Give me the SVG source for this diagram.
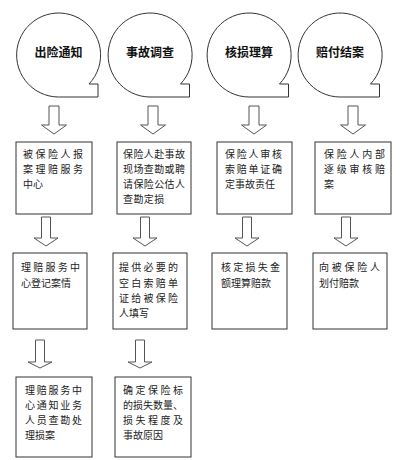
<svg xmlns="http://www.w3.org/2000/svg" width="400" height="460" viewBox="0 0 400 460">
<style>
.bubble{fill:#fff;stroke:#333;stroke-width:1}
.box{fill:#fff;stroke:#333;stroke-width:1}
.arr{fill:#fff;stroke:#555;stroke-width:1}
.title{font-family:"Noto Sans CJK SC","Noto Sans",sans-serif;font-size:12px;font-weight:bold;fill:#111;text-anchor:middle}
.t{font-family:"Noto Sans CJK SC","Noto Sans",sans-serif;font-size:10px;fill:#222}
</style>
<rect width="400" height="460" fill="#fff"/>
<g id="connectors">
<path class="arr" d="M49,106 H59 V125 H66.5 L54,134 L41.5,125 H49 Z"/>
<path class="arr" d="M148,106 H158 V125 H165.5 L153,134 L140.5,125 H148 Z"/>
<path class="arr" d="M249,106 H259 V125 H266.5 L254,134 L241.5,125 H249 Z"/>
<path class="arr" d="M348,106 H358 V125 H365.5 L353,134 L340.5,125 H348 Z"/>
<path class="arr" d="M41.5,217 H50.5 V238 H58 L46,246 L34,238 H41.5 Z"/>
<path class="arr" d="M140.5,217 H149.5 V238 H157 L145,246 L133,238 H140.5 Z"/>
<path class="arr" d="M242.5,217 H251.5 V238 H259 L247,246 L235,238 H242.5 Z"/>
<path class="arr" d="M341.5,217 H350.5 V238 H358 L346,246 L334,238 H341.5 Z"/>
<path class="arr" d="M35.5,340 H44.5 V362 H52 L40,368 L28,362 H35.5 Z"/>
<path class="arr" d="M135.5,340 H144.5 V362 H152 L140,368 L128,362 H135.5 Z"/>
</g>
<g id="n1">
<path class="bubble" d="M89,84 A42,42 0 1 0 58.5,97 L98,97 L98,84 Z"/>
<text class="title" x="58.5" y="56.5">出险通知</text>
</g>
<g id="n2">
<path class="bubble" d="M180.5,84 A42,42 0 1 0 150,97 L189.5,97 L189.5,84 Z"/>
<text class="title" x="150" y="56.5">事故调查</text>
</g>
<g id="n3">
<path class="bubble" d="M279.5,84 A42,42 0 1 0 249,97 L288.5,97 L288.5,84 Z"/>
<text class="title" x="249" y="56.5">核损理算</text>
</g>
<g id="n4">
<path class="bubble" d="M370.5,84 A42,42 0 1 0 340,97 L379.5,97 L379.5,84 Z"/>
<text class="title" x="340" y="56.5">赔付结案</text>
</g>
<g id="b11">
<rect class="box" x="16" y="142" width="76" height="72"/>
<text class="t" x="23" y="158" letter-spacing="2.5">被保险人报</text>
<text class="t" x="23" y="173" letter-spacing="2.5">案理赔服务</text>
<text class="t" x="23" y="188">中心</text>
</g>
<g id="b12">
<rect class="box" x="117" y="142" width="74" height="72"/>
<text class="t" x="123" y="158" letter-spacing="0.4">保险人赴事故</text>
<text class="t" x="123" y="173" letter-spacing="0.4">现场查勘或聘</text>
<text class="t" x="123" y="188" letter-spacing="0.4">请保险公估人</text>
<text class="t" x="123" y="203" letter-spacing="0.4">查勘定损</text>
</g>
<g id="b13">
<rect class="box" x="217" y="142" width="75" height="72"/>
<text class="t" x="225" y="158" letter-spacing="1.75">保险人审核</text>
<text class="t" x="225" y="173" letter-spacing="1.75">索赔单证确</text>
<text class="t" x="225" y="188">定事故责任</text>
</g>
<g id="b14">
<rect class="box" x="315" y="142" width="76" height="72"/>
<text class="t" x="324" y="158" letter-spacing="2.75">保险人内部</text>
<text class="t" x="324" y="173" letter-spacing="2.75">逐级审核赔</text>
<text class="t" x="324" y="188">案</text>
</g>
<g id="b21">
<rect class="box" x="13" y="253" width="74" height="76"/>
<text class="t" x="21" y="271" letter-spacing="2.25">理赔服务中</text>
<text class="t" x="21" y="287">心登记案情</text>
</g>
<g id="b22">
<rect class="box" x="113" y="253" width="74" height="76"/>
<text class="t" x="119" y="271" letter-spacing="2.25">提供必要的</text>
<text class="t" x="119" y="287" letter-spacing="2.25">空白索赔单</text>
<text class="t" x="119" y="302" letter-spacing="2.25">证给被保险</text>
<text class="t" x="119" y="317">人填写</text>
</g>
<g id="b23">
<rect class="box" x="212" y="253" width="75" height="76"/>
<text class="t" x="221" y="271" letter-spacing="2.25">核定损失金</text>
<text class="t" x="221" y="287">额理算赔款</text>
</g>
<g id="b24">
<rect class="box" x="313" y="253" width="74" height="76"/>
<text class="t" x="319" y="271" letter-spacing="2.75">向被保险人</text>
<text class="t" x="319" y="287">划付赔款</text>
</g>
<g id="b31">
<rect class="box" x="16" y="377" width="76" height="80"/>
<text class="t" x="25" y="394" letter-spacing="1.75">理赔服务中</text>
<text class="t" x="25" y="409" letter-spacing="1.75">心通知业务</text>
<text class="t" x="25" y="424" letter-spacing="1.75">人员查勘处</text>
<text class="t" x="25" y="439">理损案</text>
</g>
<g id="b32">
<rect class="box" x="115" y="377" width="76" height="80"/>
<text class="t" x="123" y="394" letter-spacing="2.5">确定保险标</text>
<text class="t" x="123" y="409">的损失数量、</text>
<text class="t" x="123" y="424" letter-spacing="2.5">损失程度及</text>
<text class="t" x="123" y="439">事故原因</text>
</g>
</svg>
